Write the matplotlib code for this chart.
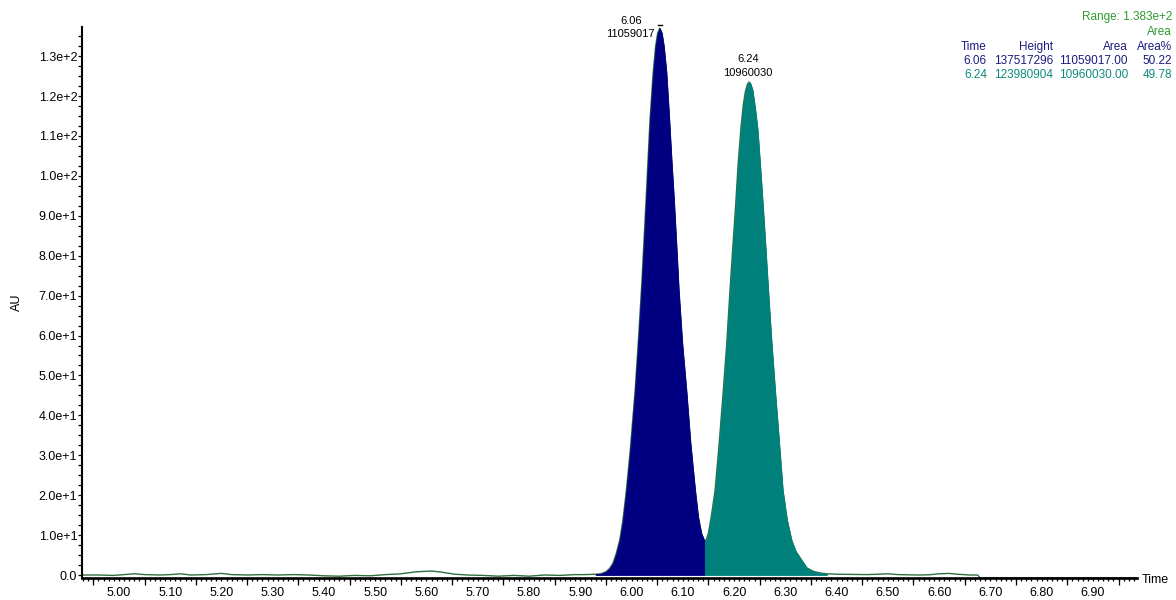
import matplotlib
matplotlib.use("Agg")
import matplotlib.pyplot as plt
from matplotlib.ticker import MultipleLocator, FixedLocator, FuncFormatter, NullFormatter
import numpy as np

plt.rcParams['font.family'] = ['Liberation Sans', 'DejaVu Sans']

# ---------------- data ----------------
# baseline before the peaks
time_pre = [4.928, 4.96, 4.99, 5.01, 5.03, 5.05, 5.08, 5.10, 5.12, 5.14, 5.17, 5.20,
            5.22, 5.25, 5.28, 5.31, 5.34, 5.37, 5.40, 5.43, 5.46, 5.49, 5.52, 5.55,
            5.58, 5.61, 5.63, 5.655, 5.68, 5.71, 5.74, 5.77, 5.80, 5.83, 5.86, 5.89,
            5.91, 5.93]
au_pre = [0.0, 0.0, -0.1, 0.1, 0.3, 0.1, 0.0, 0.1, 0.3, 0.0, 0.1, 0.4,
          0.1, 0.0, 0.1, 0.0, 0.1, 0.0, -0.2, -0.3, -0.1, -0.2, 0.1, 0.3,
          0.8, 1.0, 0.7, 0.2, 0.0, -0.1, -0.3, -0.1, -0.3, 0.0, -0.1, 0.1,
          0.1, 0.2]
# peak 1 (6.06)
time_p1 = [5.940, 5.950, 5.957, 5.964, 5.970, 5.977, 5.983, 5.990, 5.998, 6.007,
           6.014, 6.020, 6.028, 6.036, 6.042, 6.047, 6.051, 6.055, 6.059, 6.063,
           6.068, 6.073, 6.078, 6.083, 6.088, 6.092, 6.099, 6.107, 6.115, 6.124,
           6.130, 6.136]
au_p1 = [0.3, 0.8, 1.6, 3.0, 5.3, 8.75, 13.5, 21.25, 32.0, 46.25,
         60.0, 73.0, 93.0, 114.0, 125.5, 132.5, 135.8, 137.0, 135.8, 132.5,
         126.0, 115.5, 104.0, 93.5, 81.5, 71.5, 58.0, 46.25, 33.0, 21.25,
         14.5, 10.5]
# valley between the peaks
time_valley = [6.143]
au_valley = [8.3]
# peak 2 (6.24)
time_p2 = [6.146, 6.150, 6.156, 6.163, 6.171, 6.179, 6.186, 6.192, 6.198, 6.203,
           6.208, 6.2134, 6.218, 6.222, 6.226, 6.229, 6.232, 6.236, 6.241, 6.246,
           6.251, 6.256, 6.261, 6.266, 6.273, 6.280, 6.288, 6.295, 6.303, 6.312,
           6.320, 6.329, 6.342, 6.355, 6.368, 6.381]
au_p2 = [8.9, 10.5, 15.0, 21.25, 33.0, 46.25, 58.5, 71.25, 83.0, 92.5,
         103.0, 112.0, 117.8, 121.1, 122.9, 123.5, 123.1, 121.5, 117.0, 111.5,
         102.5, 93.0, 83.0, 72.5, 58.5, 46.25, 33.0, 21.25, 14.0, 8.75,
         6.0, 4.25, 1.75, 0.9, 0.5, 0.3]
# baseline after the peaks
time_post = [6.40, 6.43, 6.46, 6.50, 6.52, 6.56, 6.58, 6.60, 6.62, 6.635, 6.66,
             6.675, 6.68, 6.80, 6.90, 6.986]
au_post = [0.2, 0.15, 0.1, 0.3, 0.1, 0.0, 0.05, 0.3, 0.4, 0.2, 0.0,
           0.0, -0.7, -0.7, -0.7, -0.7]

peak_start = 5.93      # start of integrated peak 1
valley = 6.143         # split between peak 1 and peak 2
peak_end = 6.381       # end of integrated peak 2

peak_times = [6.06, 6.24]
peak_heights = [137517296, 123980904]
peak_areas = [11059017.00, 10960030.00]
peak_area_pct = [50.22, 49.78]
range_text = "Range: 1.383e+2"

x_ticks = [5.00, 5.10, 5.20, 5.30, 5.40, 5.50, 5.60, 5.70, 5.80, 5.90,
           6.00, 6.10, 6.20, 6.30, 6.40, 6.50, 6.60, 6.70, 6.80, 6.90]
y_ticks = [0, 10, 20, 30, 40, 50, 60, 70, 80, 90, 100, 110, 120, 130]

NAVY = '#000080'
TEAL = '#00807a'
TRACE = '#2f6f3a'
GREEN_TXT = '#2f9a2f'
NAVY_TXT = '#1c1c80'
TEAL_TXT = '#108a80'

# ---------------- figure ----------------
fig = plt.figure(figsize=(11.76, 6.0), dpi=100)
ax = fig.add_axes([82/1176, 1-578/600, (1137-82)/1176, (578-27)/600])

t = np.array(time_pre + time_p1 + time_valley + time_p2 + time_post)
y = np.array(au_pre + au_p1 + au_valley + au_p2 + au_post)

ax.plot(t, y, color=TRACE, lw=1.0, zorder=2)
m1 = (t >= peak_start) & (t <= valley)
m2 = (t >= valley) & (t <= peak_end)
ax.fill_between(t[m1], 0, y[m1], color=NAVY, lw=0.6, edgecolor=NAVY, zorder=3)
ax.fill_between(t[m2], 0, y[m2], color=TEAL, lw=0.6, edgecolor=TEAL, zorder=3)

ax.set_xlim(4.928, 6.986)
ax.set_ylim(-0.75, 137.3)

for s in ['top', 'right']:
    ax.spines[s].set_visible(False)
ax.spines['left'].set_linewidth(1.5)
ax.spines['bottom'].set_linewidth(1.9)
ax.spines['left'].set_zorder(5)
ax.spines['bottom'].set_zorder(5)

ax.xaxis.set_major_locator(FixedLocator(x_ticks))
ax.xaxis.set_minor_locator(MultipleLocator(0.01))
ax.xaxis.set_major_formatter(FuncFormatter(lambda v, p: f"{v:.2f}"))
ax.yaxis.set_major_locator(FixedLocator(y_ticks))
ax.yaxis.set_minor_locator(MultipleLocator(2.5))


def yfmt(v, p):
    if abs(v) < 1e-9:
        return "0.0"
    e = int(np.floor(np.log10(abs(v))))
    return f"{v/10**e:.1f}e+{e}"


ax.yaxis.set_major_formatter(FuncFormatter(yfmt))
ax.tick_params(axis='x', which='major', length=2.4, width=0.9, labelsize=9, pad=4.2)
ax.tick_params(axis='x', which='minor', length=2.4, width=0.9)
ax.tick_params(axis='y', which='major', length=2.6, width=0.9, labelsize=9, pad=0.8)
ax.tick_params(axis='y', which='minor', length=2.6, width=0.9)

# longer ticks halfway between the labelled ticks
long_ticks = [v - 0.05 for v in x_ticks] + [x_ticks[-1] + 0.05]
sec = ax.secondary_xaxis('bottom')
sec.set_xticks(long_ticks)
sec.xaxis.set_major_formatter(NullFormatter())
sec.tick_params(axis='x', length=5.0, width=0.9)
sec.spines['bottom'].set_visible(False)

ax.set_ylabel("AU", fontsize=9)
ax.yaxis.set_label_coords(-0.056, 0.5)
fig.text(1142/1176, 1-580/600, "Time", fontsize=9, ha='left', va='center')

# peak labels
offsets = [(-29, -11), (-1, 4)]
bounds = [(peak_start, valley), (valley, peak_end)]
for i, rt in enumerate(peak_times):
    lo, hi = bounds[i]
    mm = (t >= lo) & (t <= hi)
    k = np.argmax(y[mm])
    tx, ty = t[mm][k], y[mm][k]
    ax.annotate(f"{rt:.2f}\n{int(peak_areas[i])}", xy=(tx, ty),
                xytext=offsets[i], textcoords='offset pixels',
                ha='center', va='bottom', fontsize=8, linespacing=1.45,
                annotation_clip=False, zorder=6)
    if i == 0:
        ax.plot([tx - 0.004, tx + 0.004], [ty + 0.9, ty + 0.9], color='black',
                lw=1.0, clip_on=False, zorder=6)

# result table (top right)
fs = 8.5
fig.text(1172/1176, 1-17/600, range_text, color=GREEN_TXT, fontsize=fs,
         ha='right', va='center')
fig.text(1172/1176, 1-32/600, "Area", color=GREEN_TXT, fontsize=fs,
         ha='right', va='center')
col_x = [987/1176, 1053/1176, 1128/1176, 1172/1176]
headers = ["Time", "Height", "Area", "Area%"]
for cx, h in zip(col_x, headers):
    fig.text(cx, 1-47/600, h, color=NAVY_TXT, fontsize=fs, ha='right', va='center')
row_y = [1-61/600, 1-75/600]
row_c = [NAVY_TXT, TEAL_TXT]
for i in range(len(peak_times)):
    vals = [f"{peak_times[i]:.2f}", f"{peak_heights[i]}",
            f"{peak_areas[i]:.2f}", f"{peak_area_pct[i]:.2f}"]
    for cx, v in zip(col_x, vals):
        fig.text(cx, row_y[i], v, color=row_c[i], fontsize=fs, ha='right', va='center')

fig.savefig("out.png", dpi=100)
